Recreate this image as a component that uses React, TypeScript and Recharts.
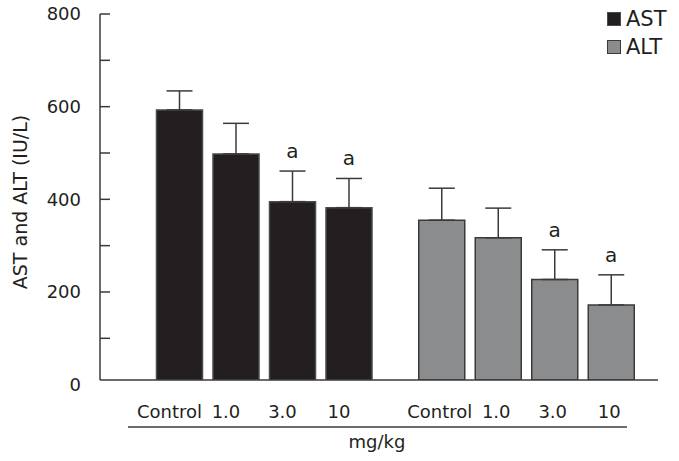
import { BarChart, Bar, XAxis, YAxis, ErrorBar, Cell, LabelList, Legend } from "recharts";

const groups = ["AST", "ALT"];
const doses = ["Control", "1.0", "3.0", "10"];
const astMeans = [593, 498, 395, 382];
const astErrors = [41, 66, 66, 63];
const altMeans = [355, 317, 227, 172];
const altErrors = [69, 64, 64, 65];
const astMarks = ["", "", "a", "a"];
const altMarks = ["", "", "a", "a"];
const yTicks = [0, 100, 200, 300, 400, 500, 600, 700, 800];

const FONT = '"DejaVu Sans", Verdana, sans-serif';
const TEXT = "#231f20";
const LINE = "#3a3a3a";
const fills: Record<string, string> = { AST: "#231f20", ALT: "#8b8c8e" };
const strokes: Record<string, string> = { AST: "#4a4a4a", ALT: "#3a3a3a" };
// the source figure sets its category labels a little left of the bars
const labelShift = [-10, -2];

const means = [astMeans, altMeans];
const errors = [astErrors, altErrors];
const marks = [astMarks, altMarks];

// one row per enzyme, one bar series per dose
const data = groups.map((g, gi) => {
  const row: Record<string, any> = { group: g };
  doses.forEach((_, di) => {
    row[`v${di}`] = means[gi][di];
    row[`e${di}`] = [0, errors[gi][di]];
  });
  return row;
});

// dose name under each bar + significance mark above the whisker
const doseLabel = (di: number) => (props: any) => {
  const vb = props.viewBox || props;
  const x = Number(vb.x ?? props.x);
  const y = Number(vb.y ?? props.y);
  const w = Number(vb.width ?? props.width);
  const h = Number(vb.height ?? props.height);
  const gi = props.index ?? 0;
  const cx = x + w / 2;
  const pxPerUnit = h / (means[gi][di] - 10);
  const errTop = y - errors[gi][di] * pxPerUnit;
  const mark = marks[gi][di];
  return (
    <g>
      <text x={cx + labelShift[gi]} y={y + h + 38} textAnchor="middle" fontFamily={FONT} fontSize={18} fill={TEXT}>
        {doses[di]}
      </text>
      {mark && (
        <text x={cx} y={errTop - 13} textAnchor="middle" fontFamily={FONT} fontSize={20} fill={TEXT}>
          {mark}
        </text>
      )}
    </g>
  );
};

// inward tick marks, labels every 200
const YTick = (props: any) => {
  const { x, y, payload } = props;
  const v = payload.value;
  return (
    <g>
      {v !== 0 && <line x1={x + 19} x2={x + 29} y1={y} y2={y} stroke={LINE} strokeWidth={1.5} />}
      {v % 200 === 0 && (
        <text x={x} y={y} dy="0.355em" textAnchor="end" fontFamily={FONT} fontSize={18} fill={TEXT}>
          {v}
        </text>
      )}
    </g>
  );
};

const YLabel = (props: any) => {
  const vb = props.viewBox || { x: 0, y: 14, width: 100, height: 366 };
  const x = vb.x + 20;
  const y = vb.y + vb.height / 2 + 5;
  return (
    <text
      x={x}
      y={y}
      transform={`rotate(-90 ${x} ${y})`}
      textAnchor="middle"
      dominantBaseline="central"
      fontFamily={FONT}
      fontSize={19}
      fill={TEXT}
    >
      AST and ALT (IU/L)
    </text>
  );
};

const XLabel = (props: any) => {
  const vb = props.viewBox || { x: 100, y: 380, width: 558, height: 81 };
  return (
    <g>
      <line x1={vb.x + 28} x2={vb.x + 527} y1={vb.y + 47} y2={vb.y + 47} stroke={LINE} strokeWidth={1.5} />
      <text x={vb.x + 277} y={vb.y + 68} textAnchor="middle" fontFamily={FONT} fontSize={18} fill={TEXT}>
        mg/kg
      </text>
    </g>
  );
};

const renderLegend = () => (
  <div style={{ fontFamily: FONT, fontSize: 21, color: TEXT }}>
    {groups.map((g) => (
      <div key={g} style={{ display: "flex", alignItems: "center", height: 28 }}>
        <span
          style={{
            width: 14,
            height: 14,
            boxSizing: "border-box",
            background: fills[g],
            border: `1px solid ${strokes[g]}`,
            marginRight: 5,
          }}
        />
        <span>{g}</span>
      </div>
    ))}
  </div>
);

export default function App() {
  return (
    <div style={{ position: "absolute", left: 0, top: 0, background: "#fff" }}>
      <BarChart
        width={679}
        height={461}
        data={data}
        margin={{ top: 14, right: 21, bottom: 0, left: 0 }}
        barGap={10.5}
      >
        <YAxis
          width={100}
          domain={[10, 800]}
          allowDataOverflow
          ticks={yTicks}
          interval={0}
          tickSize={-10}
          tickMargin={29}
          axisLine={{ stroke: LINE, strokeWidth: 1.5 }}
          tickLine={false}
          tick={<YTick />}
          label={<YLabel />}
        />
        <XAxis
          dataKey="group"
          height={81}
          padding={{ left: 33.5, right: 0 }}
          tick={false}
          tickLine={false}
          axisLine={{ stroke: LINE, strokeWidth: 1.5 }}
          label={<XLabel />}
        />
        <Legend
          layout="horizontal"
          verticalAlign="middle"
          align="center"
          content={renderLegend}
          wrapperStyle={{ top: 5, left: 607, width: 72 }}
        />
        {doses.map((d, di) => (
          <Bar
            key={d}
            dataKey={`v${di}`}
            barSize={46}
            strokeWidth={1.5}
            isAnimationActive={false}
          >
            {data.map((row) => (
              <Cell key={row.group} fill={fills[row.group]} stroke={strokes[row.group]} />
            ))}
            <ErrorBar
              dataKey={`e${di}`}
              direction="y"
              width={13}
              stroke={LINE}
              strokeWidth={1.5}
              isAnimationActive={false}
            />
            <LabelList dataKey={`v${di}`} content={doseLabel(di)} />
          </Bar>
        ))}
      </BarChart>
    </div>
  );
}
